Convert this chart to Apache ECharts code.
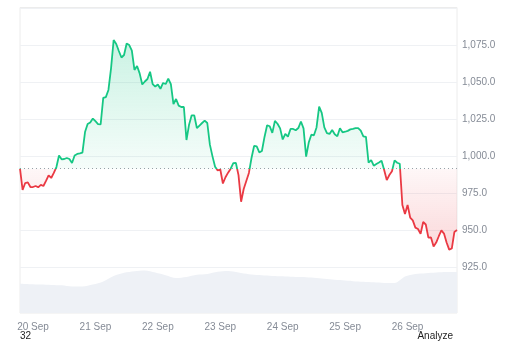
<!DOCTYPE html>
<html><head><meta charset="utf-8">
<script src="https://cdn.jsdelivr.net/npm/echarts@6/dist/echarts.min.js"></script>
<style>html,body{margin:0;padding:0;background:#fff}#c{width:512px;height:341px}</style>
</head><body><div id="c"></div>
<script>
// ---- data ----
const dayLabels = ['20 Sep', '21 Sep', '22 Sep', '23 Sep', '24 Sep', '25 Sep', '26 Sep'];
const firstMidnightHour = 5;      // hours from first sample to 20 Sep 00:00
const spanHours = 168;
const priceStepHours = 1;
const prices = [
  991.6, 977.2, 981.9, 982.3, 979.2, 979.2, 979.9, 979.0, 980.6, 979.9,
  983.3, 987.1, 985.3, 988.7, 992.7, 1000.5, 997.9, 998.1, 998.8, 998.1,
  995.4, 1000.5, 1001.5, 1001.9, 1002.4, 1016.3, 1021.7, 1022.7, 1025.4, 1023.6,
  1021.7, 1021.4, 1039.3, 1039.9, 1044.7, 1059.3, 1078.4, 1075.7, 1071.0, 1066.6,
  1068.3, 1076.0, 1075.0, 1071.3, 1058.2, 1060.9, 1055.9, 1048.4, 1050.4, 1052.1,
  1057.0, 1048.7, 1047.0, 1048.4, 1045.5, 1049.4, 1048.7, 1052.4, 1048.7, 1035.2,
  1038.6, 1034.1, 1033.2, 1033.2, 1010.9, 1021.3, 1027.6, 1027.5, 1019.0, 1020.7,
  1022.4, 1024.0, 1022.4, 1007.8, 999.9, 992.9, 990.4, 991.0, 981.6, 985.8,
  988.9, 991.6, 995.3, 995.4, 987.2, 969.3, 977.9, 983.3, 988.7, 998.8,
  1006.9, 1006.6, 1002.6, 1003.5, 1013.0, 1020.9, 1020.2, 1015.7, 1023.8, 1021.9,
  1018.8, 1011.3, 1015.0, 1013.2, 1018.4, 1018.4, 1017.5, 1019.0, 1023.4, 1018.8,
  999.7, 1009.2, 1014.5, 1014.1, 1019.4, 1033.4, 1029.2, 1019.4, 1015.5, 1015.0,
  1017.7, 1014.8, 1013.4, 1018.8, 1016.1, 1016.5, 1017.1, 1018.1, 1018.5, 1019.0,
  1019.0, 1017.3, 1013.4, 1013.0, 995.6, 997.4, 993.6, 994.7, 995.7, 996.9,
  990.7, 983.9, 987.3, 989.8, 997.2, 995.6, 994.9, 967.1, 961.0, 967.1,
  958.6, 956.7, 951.8, 950.9, 947.6, 955.6, 953.9, 945.1, 945.2, 939.1,
  941.7, 946.0, 949.9, 947.8, 941.8, 937.0, 937.7, 948.9, 950.2
];
const volumeStepHours = 4;
const volumes = [
  29.3, 28.8, 28.4, 28.0, 27.6, 26.5, 26.5, 28.4, 31.5, 37.0,
  40.2, 41.8, 42.5, 40.5, 37.7, 35.0, 36.0, 38.2, 39.0, 41.2,
  42.0, 40.5, 38.8, 38.0, 37.2, 36.6, 36.3, 36.0, 35.4, 34.5,
  33.4, 32.6, 31.8, 31.2, 30.6, 30.0, 30.0, 36.5, 39.0, 39.8,
  40.4, 40.9, 41.0
];
const priceMin = 900, priceMax = 1100, priceInterval = 25;
const volumeMax = 305;
const footLeft = '32';
const footRight = 'Analyze';

// ---- chart ----
const GREEN = '#16c784', RED = '#ea3943';
const base = prices[0];
const pMax = Math.max(...prices), pMin = Math.min(...prices);
const off = (pMax - base) / (pMax - pMin);
const priceData = prices.map((v, i) => [i * priceStepHours, v]);
const volData = volumes.map((v, i) => [i * volumeStepHours, v]);
const fmt = v => v.toLocaleString('en-US', {minimumFractionDigits: 1, maximumFractionDigits: 1});
const FONT = '"Liberation Sans", Arial, sans-serif';

const chart = echarts.init(document.getElementById('c'), null, {renderer: 'canvas'});
chart.setOption({
  animation: false,
  grid: [
    {left: 20, right: 55, top: 8, bottom: 36.6},
    {left: 20, right: 55, top: 7.5, bottom: 28, show: true, borderColor: '#ececec', borderWidth: 1}
  ],
  xAxis: [
    {gridIndex: 0, type: 'value', min: 0, max: spanHours, show: false},
    {gridIndex: 1, type: 'value', min: 0, max: spanHours,
     axisLine: {show: false}, axisTick: {show: false}, splitLine: {show: false},
     axisLabel: {
       customValues: dayLabels.map((d, i) => firstMidnightHour + 24 * i),
       formatter: v => dayLabels[Math.round((v - firstMidnightHour) / 24)] || '',
       color: '#858b96', fontSize: 10, fontFamily: FONT, margin: 9
     }}
  ],
  yAxis: [
    {gridIndex: 0, type: 'value', position: 'right', min: priceMin, max: priceMax, interval: priceInterval,
     axisLine: {show: false}, axisTick: {show: false},
     splitLine: {lineStyle: {color: '#eff1f4', width: 1}},
     axisLabel: {
       formatter: v => (v === priceMin || v === priceMax) ? '' : fmt(v),
       color: '#858b96', fontSize: 10, fontFamily: FONT, margin: 5
     }},
    {gridIndex: 1, type: 'value', min: 0, max: volumeMax, show: false}
  ],
  visualMap: {
    type: 'piecewise', show: false, seriesIndex: 0, dimension: 1,
    pieces: [{gt: base, lte: priceMax, color: GREEN}, {gte: priceMin, lte: base, color: RED}]
  },
  series: [
    {
      type: 'line', xAxisIndex: 0, yAxisIndex: 0, data: priceData, showSymbol: false, z: 5,
      lineStyle: {width: 1.8},
      areaStyle: {
        origin: base,
        color: new echarts.graphic.LinearGradient(0, 0, 0, 1, [
          {offset: 0, color: 'rgba(22,199,132,0.32)'},
          {offset: off, color: 'rgba(22,199,132,0.06)'},
          {offset: off, color: 'rgba(234,57,67,0.06)'},
          {offset: 1, color: 'rgba(234,57,67,0.28)'}
        ])
      },
      markLine: {
        silent: true, symbol: 'none', label: {show: false},
        lineStyle: {type: [1, 3], color: '#9aa0a8', width: 1},
        data: [{yAxis: base}]
      }
    },
    {
      type: 'line', xAxisIndex: 1, yAxisIndex: 1, data: volData, showSymbol: false, smooth: 0.3, z: 3,
      lineStyle: {width: 0}, itemStyle: {color: '#eef1f6'},
      areaStyle: {color: '#eef1f6', opacity: 1}
    }
  ],
  graphic: [
    {type: 'text', left: 20, top: 331, style: {text: footLeft, fill: '#1f1f1f', font: '10px ' + FONT}},
    {type: 'text', right: 59, top: 331, style: {text: footRight, fill: '#1f1f1f', font: '10px ' + FONT}}
  ]
});
</script>
</body></html>
